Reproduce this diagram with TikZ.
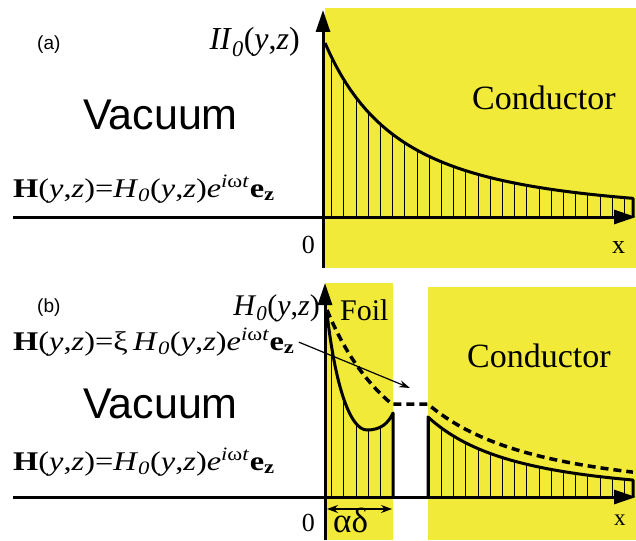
\documentclass[tikz,border=0pt]{standalone}
\usepackage{graphicx}
\usepackage{fontspec}
\setmainfont{Liberation Serif}
\newfontfamily\arialfont{Liberation Sans}
\usetikzlibrary{arrows.meta,positioning}
\definecolor{condyellow}{RGB}{242,234,56}

% field formulas
\def\Hfield{\scalebox{1.2}[1]{\textbf{H}(\textit{y},\textit{z})=\textit{H}\textsubscript{\textit{0}}(\textit{y},\textit{z})\textit{e}\textsuperscript{\textit{i}ω\textit{t}}\textbf{e}\textsubscript{\textbf{z}}}}
\def\Hfoil{\scalebox{1.2}[1]{\textbf{H}(\textit{y},\textit{z})=ξ\,\textit{H}\textsubscript{\textit{0}}(\textit{y},\textit{z})\textit{e}\textsuperscript{\textit{i}ω\textit{t}}\textbf{e}\textsubscript{\textbf{z}}}}

\tikzset{
  axisline/.style={line width=3pt, -{Triangle[length=22pt,width=14pt]}},
  fieldline/.style={line width=3pt, line join=round},
  dashline/.style={line width=3.5pt, dash pattern=on 8pt off 5pt},
  hatchline/.style={line width=0.9pt},
  formula/.style={font=\fontsize{27}{27}\selectfont, anchor=base west, inner sep=0pt},
  region/.style={font=\arialfont\fontsize{43}{43}\selectfont, anchor=base west, inner sep=0pt},
  tag/.style={font=\arialfont\fontsize{19}{19}\selectfont, anchor=base west, inner sep=0pt},
  material/.style={font=\fontsize{34}{34}\selectfont, anchor=base west, inner sep=0pt},
  axislabel/.style={font=\fontsize{26}{26}\selectfont, inner sep=0pt},
}

\begin{document}
\begin{tikzpicture}[x=1pt, y=-1pt]
    \useasboundingbox (0,0) rectangle (636,540);

    % ---------------- (a) semi-infinite conductor ----------------
    \fill[condyellow] (325,8) rectangle (636,268);

    \coordinate (oa) at (323,217);
    \coordinate (ya) at (323,10);
    \coordinate (xa) at (636,217);
    \coordinate (la) at (13,217);
    \coordinate (ba) at (323,268);

    % hatched field profile
    \begin{scope}
      \clip (325,217) -- plot[domain=325:633, samples=60] (\x, {217-174/(1+(\x-325)/150)^2}) -- (633,217) -- cycle;
      \foreach \k in {0,...,24}
        \draw[hatchline] ({331.7+12.2*\k},217) -- ++(0,-200);
    \end{scope}
    \draw[fieldline] plot[domain=325:633, samples=60] (\x, {217-174/(1+(\x-325)/150)^2}) -- (633,217);

    % axes
    \draw[line width=3pt] (ba) -- (oa);
    \draw[axisline] (oa) -- (ya);
    \draw[axisline] (la) -- (xa);

    % labels
    \node[tag] (taga) at (37,50) {(a)};
    \node[axislabel, font=\fontsize{32}{32}\selectfont, anchor=base east] (Ha) at (300,50)
      {\textit{II}\textsubscript{\textit{0}}(\textit{y},\textit{z})};
    \node[region] (vaca) at (83,130) {Vacuum};
    \node[formula] (fielda) at (13,197) {\Hfield};
    \node[material] (conda) at (472,110) {Conductor};
    \node[axislabel, anchor=base east] (zeroa) at (315,253) {0};
    \node[axislabel, anchor=base west] (xlaba) at (612,253) {x};

    % ---------------- (b) foil in front of conductor ----------------
    \fill[condyellow] (325,283) rectangle (393,540);
    \fill[condyellow] (428,287) rectangle (636,540);

    \coordinate (ob) at (325,497);
    \coordinate (yb) at (325,283);
    \coordinate (xb) at (636,497);
    \coordinate (lb) at (13,497);
    \coordinate (bb) at (325,540);

    % hatched field in foil
    \begin{scope}
      \clip (325,497) -- (325,313) .. controls (335,385) and (350,430) .. (367,430)
        .. controls (380,430) and (388,424) .. (393,413) -- (393,497) -- cycle;
      \foreach \k in {0,...,5}
        \draw[hatchline] ({331.7+12.2*\k},497) -- ++(0,-200);
    \end{scope}
    \draw[fieldline] (327,313) .. controls (335,385) and (350,430) .. (367,430)
      .. controls (380,430) and (388,424) .. (393,413) -- (393,497);

    % hatched field in conductor
    \begin{scope}
      \clip (429,497) -- plot[domain=429:633, samples=50] (\x, {497-80/(1+(\x-428)/175)^2}) -- (633,497) -- cycle;
      \foreach \k in {8,...,24}
        \draw[hatchline] ({331.7+12.2*\k},497) -- ++(0,-200);
    \end{scope}
    \draw[fieldline] (428,497) -- plot[domain=428:633, samples=50] (\x, {497-80/(1+(\x-428)/175)^2}) -- (633,497);

    % field without foil
    \draw[dashline] plot[domain=327:392, samples=25] (\x, {497-187/(1+(\x-327)/155)^2})
      -- (428,404) -- plot[domain=428:633, samples=50] (\x, {497-187/(1+(\x-363)/155)^2});

    % axes
    \draw[line width=3pt] (bb) -- (ob);
    \draw[axisline] (ob) -- (yb);
    \draw[axisline] (lb) -- (xb);

    % foil thickness
    \coordinate (foilL) at (327,509);
    \coordinate (foilR) at (392,509);
    \draw[line width=1.2pt, {Stealth[length=11pt,width=8pt]}-{Stealth[length=11pt,width=8pt]}] (foilL) -- (foilR);

    % labels
    \node[tag] (tagb) at (37,312) {(b)};
    \node[axislabel, font=\fontsize{30}{30}\selectfont, anchor=base east] (Hb) at (320,315)
      {\textit{H}\textsubscript{\textit{0}}(\textit{y},\textit{z})};
    \node[formula] (fieldfoil) at (13,350) {\Hfoil};
    \node[region] (vacb) at (83,418) {Vacuum};
    \node[formula] (fieldb) at (13,470) {\Hfield};
    \node[material, font=\fontsize{30}{30}\selectfont] (foil) at (340,320) {Foil};
    \node[material] (condb) at (467,367) {Conductor};
    \node[axislabel, anchor=base east] (zerob) at (315,531) {0};
    \node[axislabel, font=\fontsize{23}{23}\selectfont, anchor=base west] (xlabb) at (614,525) {x};
    \node[axislabel, font=\fontsize{35}{35}\selectfont, anchor=base west] (alphadelta) at (333,532) {αδ};

    % pointer from foil formula
    \coordinate (gap) at (410,388);
    \draw[line width=1.2pt, -{Stealth[length=11pt,width=7pt]}] ([xshift=4pt]fieldfoil.east) -- (gap);
\end{tikzpicture}
\end{document}
